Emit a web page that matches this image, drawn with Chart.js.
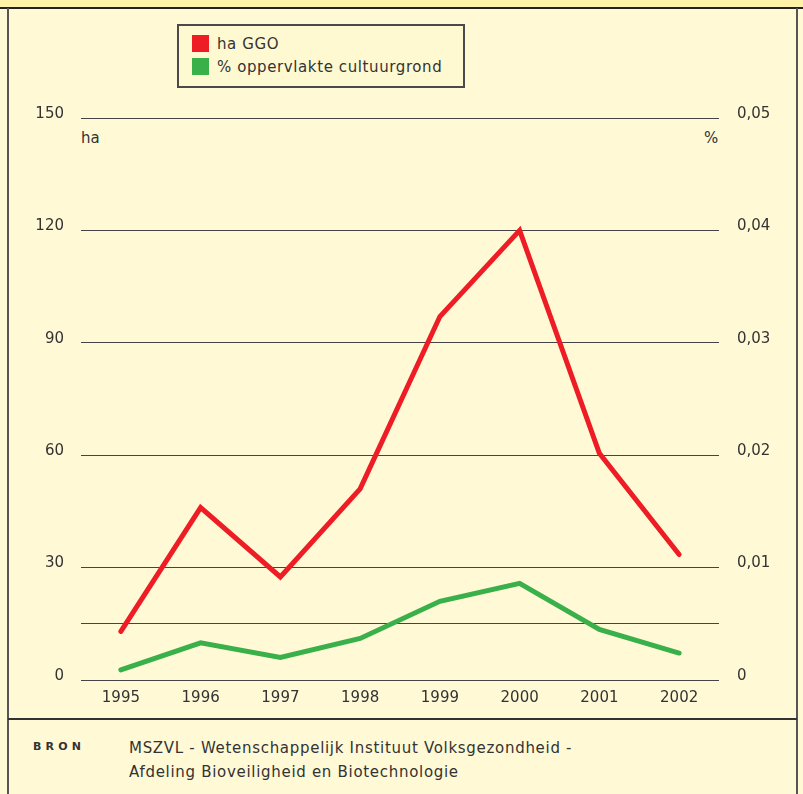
<!DOCTYPE html>
<html>
<head>
<meta charset="utf-8">
<script src="https://cdn.jsdelivr.net/npm/chart.js@4/dist/chart.umd.min.js"></script>
<style>
  html, body { margin: 0; padding: 0; }
  body { width: 803px; height: 794px; overflow: hidden; font-family: "DejaVu Sans", Verdana, sans-serif; color: #333; }
  #frame { position: relative; width: 803px; height: 794px; background: #FFF9D6; overflow: hidden; }
  .abs { position: absolute; }
  #topband { left: 0; top: 0; width: 803px; height: 7px; background: #FFF2A8; }
  #topline { left: 0; top: 7px; width: 803px; height: 2px; background: #222; }
  #lborder { left: 7px; top: 8px; width: 2px; height: 786px; background: #555; }
  #rborder { left: 796px; top: 8px; width: 2px; height: 786px; background: #555; }
  #sep { left: 8px; top: 718px; width: 789px; height: 2px; background: #333; }
  #legend { left: 177px; top: 24px; width: 284px; height: 60px; border: 2px solid #4a4a4a; background: #FFF9D2; }
  .item { position: absolute; left: 13px; font-size: 15px; line-height: 18px; white-space: nowrap; letter-spacing: 0.6px; }
  .sw { display: inline-block; width: 17px; height: 17px; vertical-align: -3px; margin-right: 8px; }
  #bron { left: 33px; top: 740px; font-size: 11px; font-weight: bold; letter-spacing: 4.2px; color: #333; }
  #src { left: 129px; top: 736px; font-size: 15px; line-height: 24px; color: #333; letter-spacing: 0.7px; }
  .unit { font-size: 15px; color: #333; }
  canvas { position: absolute; left: 0; top: 0; }
</style>
</head>
<body>
<div id="frame">
  <div class="abs" id="topband"></div>
  <div class="abs" id="topline"></div>
  <div class="abs" id="lborder"></div>
  <div class="abs" id="rborder"></div>
  <div class="abs" id="sep"></div>
  <div class="abs" id="legend"></div>
  <div class="abs unit" id="unitL" style="left:81px; top:129px;">ha</div>
  <div class="abs unit" id="unitR" style="left:704px; top:129px;">%</div>
  <div class="abs" id="bron">BRON</div>
  <div class="abs" id="src">MSZVL - Wetenschappelijk Instituut Volksgezondheid -<br>Afdeling Bioveiligheid en Biotechnologie</div>
  <canvas id="c" width="803" height="794"></canvas>
</div>
<script>
const years = ['1995', '1996', '1997', '1998', '1999', '2000', '2001', '2002'];
const haGGO = [13, 46, 27.5, 51, 97, 120, 60.5, 33.5];
const pctCultuurgrond = [0.0009, 0.0033, 0.0020, 0.0037, 0.0070, 0.0086, 0.0045, 0.0024];
const seriesNames = ['ha GGO', '% oppervlakte cultuurgrond'];
const seriesColors = ['#EE1D25', '#39B04A'];
const leftTicks = [0, 15, 30, 60, 90, 120, 150];
const leftTickLabels = ['0', '', '30', '60', '90', '120', '150'];
const rightTicks = [0, 0.01, 0.02, 0.03, 0.04, 0.05];
const rightTickLabels = ['0', '0,01', '0,02', '0,03', '0,04', '0,05'];

// legend
const legend = document.getElementById('legend');
seriesNames.forEach((name, i) => {
  const d = document.createElement('div');
  d.className = 'item';
  d.style.top = (9 + i * 23) + 'px';
  const sw = document.createElement('span');
  sw.className = 'sw';
  sw.style.background = seriesColors[i];
  d.appendChild(sw);
  d.appendChild(document.createTextNode(name));
  legend.appendChild(d);
});

const font = { family: '"DejaVu Sans", Verdana, sans-serif', size: 15 };
new Chart(document.getElementById('c'), {
  type: 'line',
  data: {
    labels: years,
    datasets: [
      { label: seriesNames[0], data: haGGO, yAxisID: 'y', borderColor: seriesColors[0], backgroundColor: seriesColors[0], borderWidth: 5, pointRadius: 0, tension: 0, borderCapStyle: 'round', borderJoinStyle: 'miter' },
      { label: seriesNames[1], data: pctCultuurgrond, yAxisID: 'y1', borderColor: seriesColors[1], backgroundColor: seriesColors[1], borderWidth: 5, pointRadius: 0, tension: 0, borderCapStyle: 'round', borderJoinStyle: 'miter' }
    ]
  },
  options: {
    responsive: false,
    animation: false,
    devicePixelRatio: 1,
    layout: { padding: { top: 118, left: 0, right: 0, bottom: 0 } },
    plugins: { legend: { display: false }, tooltip: { enabled: false } },
    scales: {
      x: {
        offset: true,
        grid: { display: false, drawTicks: false },
        border: { display: false },
        ticks: { color: '#333', font: font, padding: 9, maxRotation: 0 },
        afterFit: (s) => { s.height = 114; }
      },
      y: {
        position: 'left',
        min: 0, max: 150,
        afterBuildTicks: (s) => { s.ticks = leftTicks.map(v => ({ value: v })); },
        grid: { color: '#444', lineWidth: 1, drawTicks: false },
        border: { display: false },
        ticks: { color: '#333', font: font, padding: 17, labelOffset: -4,
          callback: (v) => leftTickLabels[leftTicks.indexOf(v)] },
        afterFit: (s) => { s.width = 81; }
      },
      y1: {
        position: 'right',
        min: 0, max: 0.05,
        afterBuildTicks: (s) => { s.ticks = rightTicks.map(v => ({ value: v })); },
        grid: { display: false, drawTicks: false },
        border: { display: false },
        ticks: { color: '#333', font: font, padding: 18, labelOffset: -4,
          callback: (v) => { const i = rightTicks.findIndex(t => Math.abs(t - v) < 1e-9); return i >= 0 ? rightTickLabels[i] : ''; } },
        afterFit: (s) => { s.width = 84; }
      }
    }
  }
});
</script>
</body>
</html>
